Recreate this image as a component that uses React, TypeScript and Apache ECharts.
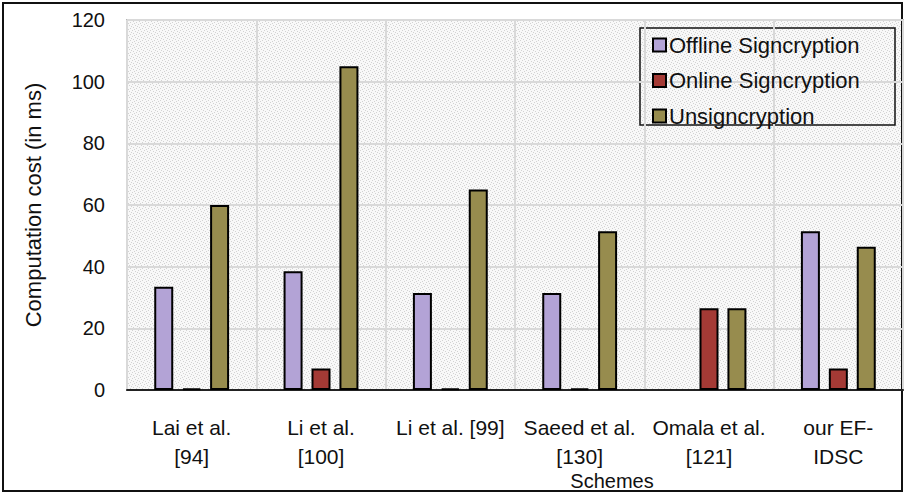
import React, { useEffect, useRef } from "react";
import * as echarts from "echarts";

const categories = [
  "Lai et al.\n[94]",
  "Li et al.\n[100]",
  "Li et al. [99]",
  "Saeed et al.\n[130]",
  "Omala et al.\n[121]",
  "our EF-\nIDSC",
];
const seriesNames = ["Offline Signcryption", "Online Signcryption", "Unsigncryption"];
const offlineValues: (number | string)[] = [33.5, 38.5, 31.5, 31.5, "-", 51.5];
const onlineValues: (number | string)[] = [0.5, 7, 0.5, 0.5, 26.5, 7];
const unsignValues: (number | string)[] = [60, 105, 65, 51.5, 26.5, 46.5];
const seriesColors = ["#b3a3d6", "#a43a35", "#978c4e"];
const yTicks = { min: 0, max: 120, interval: 20 };

const FONT = "'Liberation Sans', Arial, sans-serif";

function makeStipple(): string {
  const c = document.createElement("canvas");
  c.width = 6;
  c.height = 6;
  const ctx = c.getContext("2d");
  if (!ctx) return "";
  ctx.fillStyle = "#f8f8f8";
  ctx.fillRect(0, 0, 6, 6);
  ctx.fillStyle = "#d2d2d2";
  const dots = [
    [0, 0], [3, 1], [1, 3], [4, 4], [5, 2], [2, 5],
  ];
  dots.forEach(([x, y]) => ctx.fillRect(x, y, 1, 1));
  return c.toDataURL();
}

export default function App() {
  const ref = useRef<HTMLDivElement>(null);
  useEffect(() => {
    if (!ref.current) return;
    const chart = echarts.init(ref.current, null, { renderer: "svg" });
    const data = [offlineValues, onlineValues, unsignValues];
    const stipple = makeStipple();
    const gridBg = stipple
      ? { image: stipple, repeat: "repeat", imageWidth: 6, imageHeight: 6 }
      : "#f1f1f1";
    chart.setOption({
      animation: false,
      backgroundColor: "#ffffff",
      textStyle: { fontFamily: FONT },
      grid: {
        left: 127,
        right: 2,
        top: 20,
        bottom: 104,
        show: true,
        backgroundColor: gridBg,
        borderColor: "#808080",
        borderWidth: 1.5,
      },
      legend: {
        orient: "vertical",
        left: 652,
        top: 34,
        padding: 0,
        itemWidth: 13,
        itemHeight: 13,
        itemGap: 13.5,
        icon: "rect",
        textStyle: { fontSize: 22, color: "#111", lineHeight: 22, fontFamily: FONT, padding: [0, 0, 0, -2] },
        data: seriesNames,
      },
      xAxis: {
        type: "category",
        data: categories,
        axisLine: { show: true, lineStyle: { color: "#222", width: 2 } },
        axisTick: { show: false },
        axisLabel: {
          interval: 0,
          fontSize: 21,
          color: "#111",
          margin: 23,
          lineHeight: 29,
          fontFamily: FONT,
        },
        splitLine: { show: true, interval: 0, lineStyle: { color: "#d9d9d9", width: 2 } },
      },
      yAxis: {
        type: "value",
        min: yTicks.min,
        max: yTicks.max,
        interval: yTicks.interval,
        name: "Computation cost (in ms)",
        nameLocation: "middle",
        nameGap: 83,
        nameTextStyle: { fontSize: 22, color: "#111", fontFamily: FONT },
        axisLine: { show: false },
        axisTick: { show: false },
        axisLabel: { fontSize: 20, color: "#111", margin: 22, fontFamily: FONT },
        splitLine: { show: true, lineStyle: { color: "#d9d9d9", width: 2 } },
      },
      series: seriesNames.map((name, i) => ({
        name,
        type: "bar",
        data: data[i],
        barWidth: 19,
        barGap: "47%",
        itemStyle: { color: seriesColors[i], borderColor: "#000", borderWidth: 2 },
      })),
      graphic: [
        {
          type: "rect",
          shape: { x: 3, y: 3, width: 899, height: 488 },
          style: { fill: "none", stroke: "#111", lineWidth: 2 },
          silent: true,
        },
        {
          type: "rect",
          shape: { x: 640, y: 28, width: 255, height: 97 },
          style: { fill: "none", stroke: "#111", lineWidth: 1.5 },
          silent: true,
        },
        {
          type: "text",
          x: 612,
          y: 481,
          style: {
            text: "Schemes",
            fontSize: 20,
            fill: "#111",
            fontFamily: FONT,
            align: "center",
            verticalAlign: "middle",
          },
          silent: true,
        },
      ],
    });
    return () => chart.dispose();
  }, []);
  return (
    <div
      ref={ref}
      style={{ position: "fixed", left: 0, top: 0, width: 905, height: 494 }}
    />
  );
}
